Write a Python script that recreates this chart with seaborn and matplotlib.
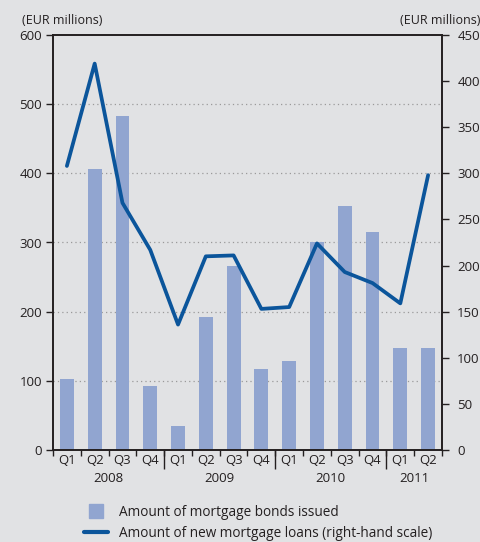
import matplotlib
matplotlib.use("Agg")
import matplotlib.pyplot as plt
from matplotlib.lines import Line2D
import numpy as np
import pandas as pd
import seaborn as sns

quarters = ["Q1", "Q2", "Q3", "Q4", "Q1", "Q2", "Q3", "Q4", "Q1", "Q2", "Q3", "Q4", "Q1", "Q2"]
years = ["2008", "2009", "2010", "2011"]
year_centers = [1.5, 5.5, 9.5, 12.5]
bonds_issued = [102, 406, 483, 92, 34, 193, 266, 117, 128, 300, 353, 315, 148, 148]
new_loans = [308, 419, 268, 217, 136, 210, 211, 153, 155, 224, 193, 181, 159, 298]

left_ticks = [0, 100, 200, 300, 400, 500, 600]
right_ticks = [0, 50, 100, 150, 200, 250, 300, 350, 400, 450]

BG = "#e1e2e4"
BAR = "#91a5d0"
LINE = "#0b559b"
INK = "#231f20"

sns.set_theme(style="white")
plt.rcParams["font.family"] = ["Open Sans", "DejaVu Sans"]
plt.rcParams["font.size"] = 9.5
plt.rcParams["axes.edgecolor"] = INK
plt.rcParams["text.color"] = INK
plt.rcParams["xtick.color"] = INK
plt.rcParams["ytick.color"] = INK
plt.rcParams["xtick.labelcolor"] = INK
plt.rcParams["ytick.labelcolor"] = INK

W, H = 481, 542
fig = plt.figure(figsize=(W / 100, H / 100), dpi=100, facecolor=BG)
ax = fig.add_axes([53 / W, (H - 450) / H, (442 - 53) / W, (450 - 35) / H])
ax.set_facecolor(BG)

df = pd.DataFrame({
    "period": [f"{i:02d}" for i in range(len(quarters))],
    "bonds": bonds_issued,
    "pos": np.arange(len(quarters)),
    "loans": new_loans,
})

sns.barplot(data=df, x="period", y="bonds", ax=ax, color=BAR, saturation=1,
            width=0.5, linewidth=0, edgecolor=BAR, zorder=2)
ax.set_xlim(-0.5, len(quarters) - 0.5)
ax.set_ylim(0, 600)
ax.set_yticks(left_ticks)
ax.set_xlabel("")
ax.set_ylabel("")
for v in left_ticks[1:-1]:
    ax.axhline(v, color="#9a9a9a", lw=0.9, ls=(0, (1, 2.5)), zorder=1)

# quarter boundary ticks (major, short) and quarter labels (minor)
ax.set_xticks(np.arange(-0.5, len(quarters), 1.0))
ax.set_xticklabels([])
ax.set_xticks(np.arange(len(quarters)), minor=True)
ax.set_xticklabels(quarters, minor=True)
ax.tick_params(axis="x", which="major", direction="out", length=4, width=1, bottom=True)
ax.tick_params(axis="x", which="minor", length=0, pad=3, labelsize=9.5)
ax.tick_params(axis="y", direction="out", length=5, width=1, left=True, labelsize=9.5, pad=3)

for s in ax.spines.values():
    s.set_visible(True)
    s.set_color(INK)
    s.set_linewidth(1.2)

# year separators (longer ticks) and year labels
sec = ax.secondary_xaxis("bottom")
sec.set_xticks([3.5, 7.5, 11.5])
sec.set_xticklabels([])
sec.tick_params(length=14, width=1, direction="out", color=INK)
sec.spines["bottom"].set_visible(False)

sec2 = ax.secondary_xaxis("bottom")
sec2.set_xticks(year_centers)
sec2.set_xticklabels(years)
sec2.tick_params(length=0, pad=16, labelsize=9.5)
sec2.spines["bottom"].set_visible(False)

ax2 = ax.twinx()
sns.lineplot(data=df, x="pos", y="loans", ax=ax2, color=LINE, lw=2.7, zorder=3)
ax2.set_ylim(0, 450)
ax2.set_yticks(right_ticks)
ax2.set_xlim(-0.5, len(quarters) - 0.5)
ax2.set_ylabel("")
ax2.set_xlabel("")
ax2.tick_params(axis="y", direction="out", length=5, width=1, right=True, labelsize=9.5, pad=6)
for s in ax2.spines.values():
    s.set_color(INK)
    s.set_linewidth(1.2)

fig.text(22 / W, 1 - 20 / H, "(EUR millions)", ha="left", va="center", fontsize=9)
fig.text(480 / W, 1 - 20 / H, "(EUR millions)", ha="right", va="center", fontsize=9)

handles = [
    Line2D([0], [0], marker="s", linestyle="none", markersize=10,
           markerfacecolor=BAR, markeredgecolor=BAR),
    Line2D([0], [0], color=LINE, lw=3),
]
labels = ["Amount of mortgage bonds issued",
          "Amount of new mortgage loans (right-hand scale)"]
fig.legend(handles, labels, loc="lower left", bbox_to_anchor=(84 / W, 1 / H),
           frameon=False, fontsize=9.8, handlelength=1.75, handletextpad=0.8,
           labelspacing=0.45, borderaxespad=0, borderpad=0)

fig.savefig("out.png", dpi=100, facecolor=BG)
